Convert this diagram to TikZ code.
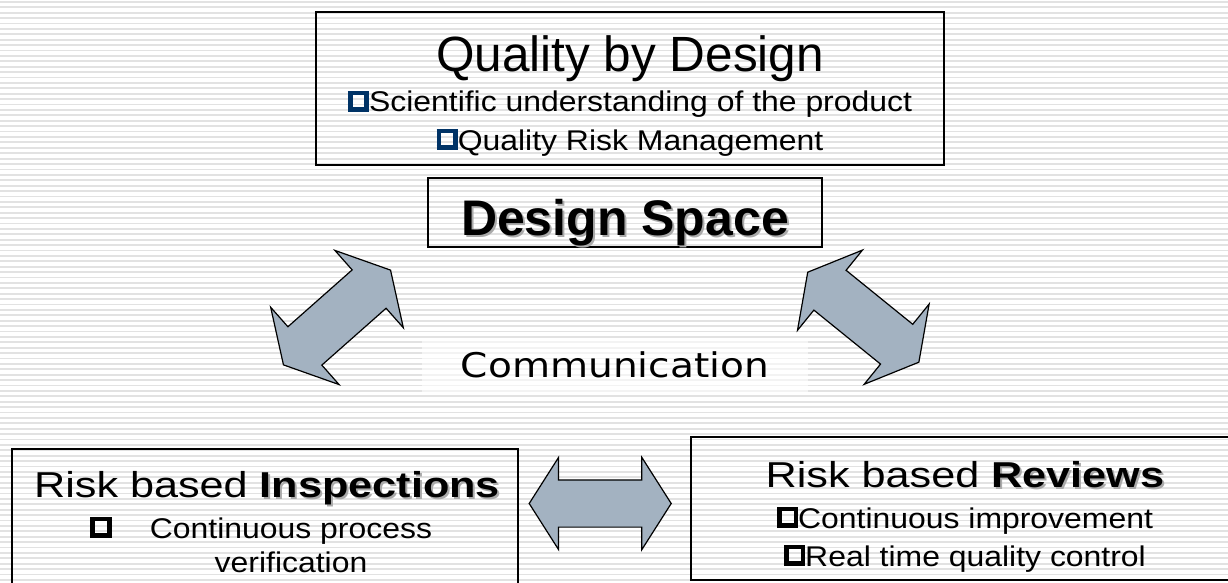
\documentclass[tikz,border=0pt]{standalone}
\usepackage{fontspec}
\setmainfont{Liberation Sans}
\newfontfamily\wideface[FakeStretch=1.12]{Liberation Sans}
\newfontfamily\headface[FakeStretch=1.2]{Liberation Sans}
\newfontfamily\commface[FakeStretch=1.15]{DejaVu Sans}
\usepackage{tikz}
\usetikzlibrary{shapes.arrows}
\definecolor{arrowfill}{RGB}{163,178,193}
\definecolor{bulletblue}{RGB}{0,51,102}
\definecolor{shadowgray}{RGB}{170,170,170}
\definecolor{stripegray}{RGB}{226,226,226}
\newcommand\sqbullet[1]{{\color{#1}\setlength\fboxrule{0.16em}\setlength\fboxsep{0pt}\raisebox{0.16em}{\fbox{\rule{0pt}{0.42em}\hspace{0.42em}}}}}
\newcommand\shadowed[1]{\rlap{\kern2pt\raisebox{-2pt}{\color{shadowgray}#1}}#1}
\tikzset{
  panel/.style={draw=black, line width=1.3pt, inner sep=0pt},
  txt/.style={anchor=base, inner sep=0pt},
  bigarrow/.style={double arrow, draw=black, line width=1.2pt, fill=arrowfill, inner xsep=0pt, inner ysep=25pt,
    minimum height=143pt, minimum width=102pt, double arrow head extend=26pt, double arrow tip angle=122},
  flatarrow/.style={bigarrow, inner ysep=23pt, minimum height=142pt, minimum width=91pt, double arrow head extend=22.5pt, double arrow tip angle=115}
}

\begin{document}
\begin{tikzpicture}[x=1pt, y=-1pt]
\useasboundingbox (0,0) rectangle (1228,583);
\clip (0,0) rectangle (1228,583);
\fill[white] (0,0) rectangle (1228,583);
\foreach \k in {0,...,108} \draw[stripegray, line width=1.8pt] (0,{\k*5.4+2}) -- (1228,{\k*5.4+2});

\draw (630,88.5) node (qbdbox) [panel, minimum width=628pt, minimum height=153pt] {};
\draw (630,72)   node (qbdtitle) [txt, font=\fontsize{49.5}{55}\selectfont] {Quality by Design};
\draw (630,112)  node (qbdsci) [txt, font=\wideface\fontsize{28.5}{33}\selectfont] {\sqbullet{bulletblue}Scientific understanding of the product};
\draw (630,150)  node (qbdrisk) [txt, font=\wideface\fontsize{28.5}{33}\selectfont] {\sqbullet{bulletblue}Quality Risk Management};

\draw (625,212.5) node (dsbox) [panel, minimum width=394pt, minimum height=69pt] {};
\draw (625,235)   node (dstext) [txt, font=\bfseries\fontsize{50}{56}\selectfont] {\shadowed{Design Space}};

\draw (615,365) node (comm) [fill=white, fill opacity=0.6, text opacity=1, minimum width=386pt, minimum height=54pt,
  font=\commface\fontsize{34}{40}\selectfont] {Communication};

\draw (337,317.5)   node (leftarrow) [bigarrow, rotate=41.5] {};
\draw (863.3,317.2) node (rightarrow) [bigarrow, rotate=-39] {};
\draw (600.2,503.5) node (midarrow) [flatarrow] {};

\draw (265,524.5) node (inspbox) [panel, minimum width=506pt, minimum height=151pt] {};
\draw (267,497)   node (insphead) [txt, font=\headface\fontsize{36}{42}\selectfont] {Risk based \textbf{\shadowed{Inspections}}};
\draw (291,538)   node (inspcont) [txt, font=\wideface\fontsize{28.5}{33}\selectfont] {Continuous process};
\draw (inspcont.base west) ++(-38,0) node (inspbullet) [txt, anchor=base east, font=\wideface\fontsize{28.5}{33}\selectfont] {\sqbullet{black}};
\draw (291,572)   node (inspverif) [txt, font=\wideface\fontsize{28.5}{33}\selectfont] {verification};

\draw (965,508.5) node (revbox) [panel, minimum width=548pt, minimum height=143pt] {};
\draw (965,487)   node (revhead) [txt, font=\headface\fontsize{36}{42}\selectfont] {Risk based \textbf{\shadowed{Reviews}}};
\draw (965,528)   node (revimp) [txt, font=\wideface\fontsize{28.5}{33}\selectfont] {\sqbullet{black}Continuous improvement};
\draw (965,566)   node (revreal) [txt, font=\wideface\fontsize{28.5}{33}\selectfont] {\sqbullet{black}Real time quality control};
\end{tikzpicture}
\end{document}
